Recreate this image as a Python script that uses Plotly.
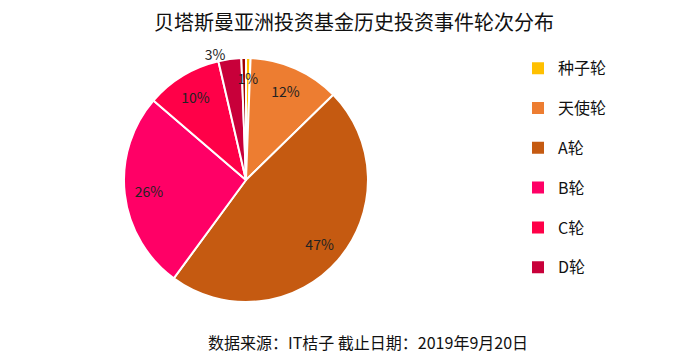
import plotly.graph_objects as go

title = "贝塔斯曼亚洲投资基金历史投资事件轮次分布"
source = "数据来源：IT桔子 截止日期：2019年9月20日"

categories = ["种子轮", "天使轮", "A轮", "B轮", "C轮", "D轮", "其他"]
values = [0.6, 12, 47, 26, 10, 3, 0.6]
pct_labels = ["1%", "12%", "47%", "26%", "10%", "3%", ""]
colors = ["#FFC000", "#ED7D31", "#C55A11", "#FF0066", "#FF0048", "#C8003A", "#A00000"]
legend_n = 6

FONT = "Noto Sans CJK SC, Microsoft YaHei, sans-serif"
dom = dict(x=[0.1676, 0.5202], y=[0.1718, 0.8592])
dom_seed = dict(x=[0.1936, 0.4942], y=[0.2225, 0.8085])
dom_d = dict(x=[0.1749, 0.5130], y=[0.1859, 0.8451])
clear = ["rgba(0,0,0,0)"] * len(values)
lbl_font = dict(family=FONT, size=14, color="#222222")

fig = go.Figure()
# coloured pie
fig.add_trace(go.Pie(
    labels=categories, values=values, textinfo="none",
    sort=False, direction="clockwise", rotation=0,
    marker=dict(colors=colors, line=dict(color="white", width=2)),
    showlegend=False, domain=dom, hoverinfo="label+percent",
))
# transparent ring carrying the larger percentage labels further out
fig.add_trace(go.Pie(
    labels=categories, values=values, text=pct_labels, textinfo="text",
    sort=False, direction="clockwise", rotation=0, hole=0.6,
    marker=dict(colors=clear, line=dict(width=0)),
    textposition=["none", "inside", "inside", "inside", "inside", "none", "none"],
    insidetextorientation="horizontal", textfont=lbl_font,
    showlegend=False, domain=dom, hoverinfo="skip",
))
# transparent pies carrying the small-slice labels
fig.add_trace(go.Pie(
    labels=categories, values=values, text=pct_labels, textinfo="text",
    sort=False, direction="clockwise", rotation=0,
    marker=dict(colors=clear, line=dict(width=0)),
    textposition=["inside", "none", "none", "none", "none", "none", "none"],
    insidetextorientation="horizontal", textfont=lbl_font,
    showlegend=False, domain=dom_seed, hoverinfo="skip",
))
fig.add_trace(go.Pie(
    labels=categories, values=values, text=pct_labels, textinfo="text",
    sort=False, direction="clockwise", rotation=0,
    marker=dict(colors=clear, line=dict(width=0)),
    textposition=["none", "none", "none", "none", "none", "outside", "none"],
    textfont=lbl_font, showlegend=False, domain=dom_d, hoverinfo="skip",
))
for i in range(legend_n):
    fig.add_trace(go.Scatter(
        x=[None], y=[None], mode="markers", name=categories[i],
        marker=dict(symbol="square", size=9, color=colors[i]),
        legendgroup=str(i), showlegend=True,
    ))

fig.update_layout(
    width=692, height=355,
    margin=dict(l=0, r=0, t=0, b=0),
    paper_bgcolor="white", plot_bgcolor="white",
    xaxis=dict(visible=False), yaxis=dict(visible=False),
    uniformtext=dict(minsize=14, mode="show"),
    title=dict(text=title, x=0.5, xanchor="center", y=0.958, yanchor="middle",
               font=dict(family=FONT, size=20, color="#111111")),
    legend=dict(x=0.7370, y=0.878, xanchor="left", yanchor="top",
                font=dict(family=FONT, size=16, color="#111111"),
                tracegroupgap=16, itemsizing="constant", bgcolor="rgba(0,0,0,0)"),
    annotations=[dict(text=source, x=0.520, y=0.059, xref="paper", yref="paper",
                      xanchor="center", yanchor="middle", showarrow=False,
                      font=dict(family=FONT, size=16, color="#111111"))],
)
fig.write_html("out.html")
